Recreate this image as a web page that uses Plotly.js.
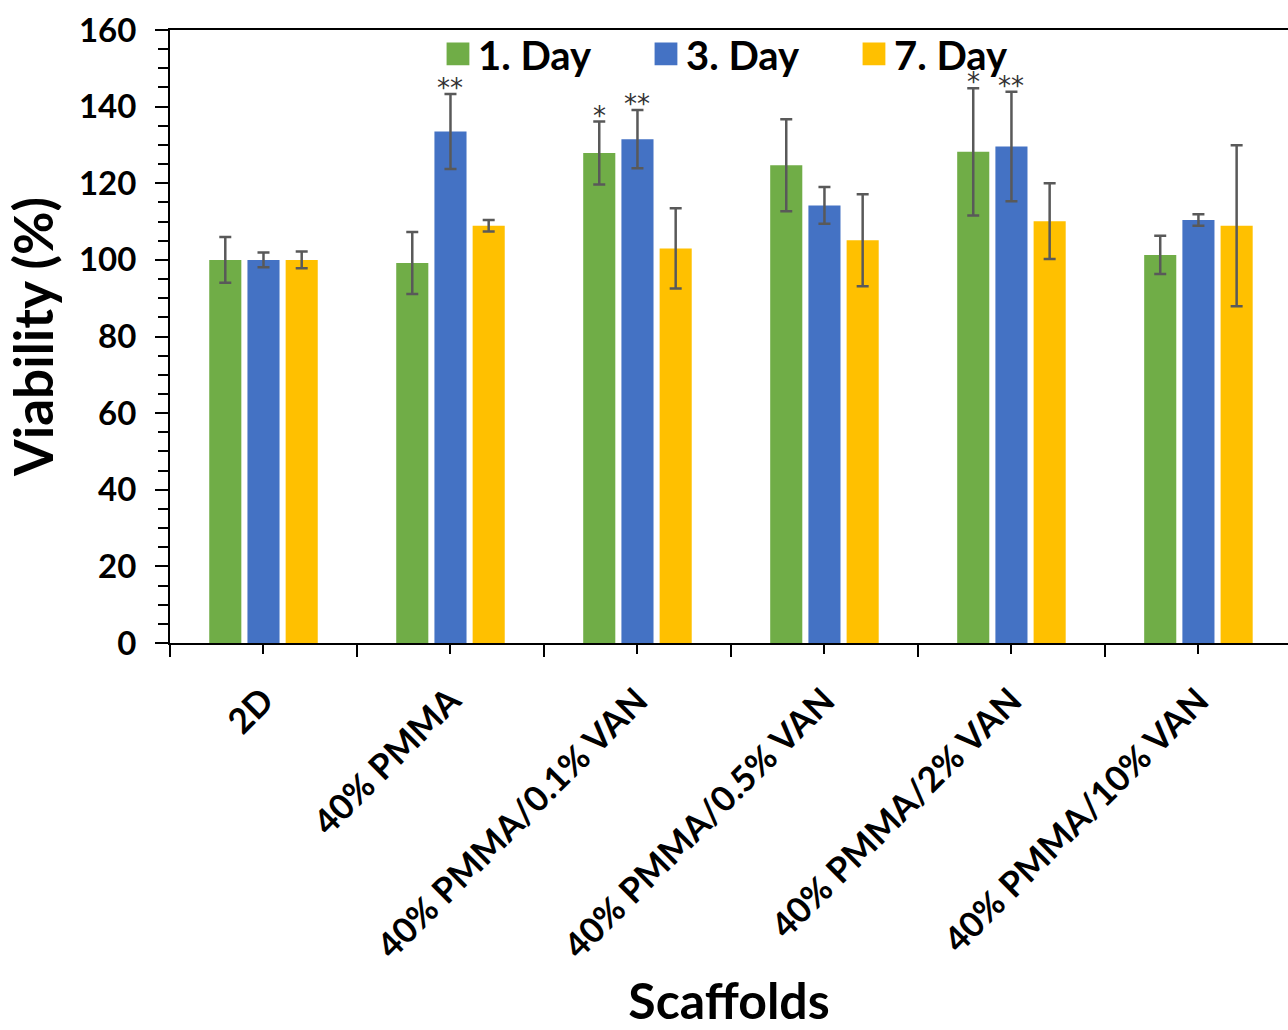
<!DOCTYPE html>
<html>
<head>
<meta charset="utf-8">
<script src="https://cdn.plot.ly/plotly-3.0.1.min.js"></script>
<style>html,body{margin:0;padding:0;background:#fff;}#chart{width:1288px;height:1030px;}</style>
</head>
<body>
<div id="chart"></div>
<script>
const categories = ['2D', '40% PMMA', '40% PMMA/0.1% VAN', '40% PMMA/0.5% VAN', '40% PMMA/2% VAN', '40% PMMA/10% VAN'];
const seriesNames = ['1. Day', '3. Day', '7. Day'];
const day1 = [100, 99.2, 127.9, 124.7, 128.2, 101.3];
const day1Err = [6, 8.1, 8.2, 12, 16.6, 5];
const day3 = [100, 133.5, 131.5, 114.2, 129.6, 110.4];
const day3Err = [1.9, 9.8, 7.6, 4.8, 14.3, 1.5];
const day7 = [100, 108.9, 103, 105.1, 110.1, 108.9];
const day7Err = [2.2, 1.5, 10.5, 12, 9.9, 21];
const sig1 = ['', '', '*', '', '*', ''];
const sig3 = ['', '**', '**', '', '**', ''];
const sig7 = ['', '', '', '', '', ''];
const yTicks = [0, 20, 40, 60, 80, 100, 120, 140, 160];

const colors = ['#70AD47', '#4472C4', '#FFC000'];
const values = [day1, day3, day7];
const errors = [day1Err, day3Err, day7Err];
const sigs = [sig1, sig3, sig7];
const xPos = categories.map((c, i) => i);
const bargap = 0.387;

const traces = values.map((v, k) => ({
  type: 'bar',
  name: seriesNames[k],
  x: xPos,
  y: v,
  marker: {color: colors[k], line: {width: 0}},
  error_y: {type: 'data', array: errors[k], visible: true, color: '#595959', thickness: 2.5, width: 6}
}));

const slot = (1 - bargap) / 3;
const annotations = [];
sigs.forEach((s, k) => {
  s.forEach((txt, i) => {
    if (!txt) return;
    annotations.push({
      x: xPos[i] + (k - 1) * slot,
      y: values[k][i] + errors[k][i],
      xref: 'x', yref: 'y',
      text: txt, showarrow: false,
      xanchor: 'center', yanchor: 'bottom', yshift: -11,
      font: {family: 'DejaVu Sans', size: 26, color: '#333333'}
    });
  });
});

const layout = {
  width: 1288, height: 1030,
  margin: {l: 170, r: 0, t: 30, b: 387},
  paper_bgcolor: '#fff', plot_bgcolor: '#fff',
  barmode: 'group', bargap: bargap, bargroupgap: 0.16,
  showlegend: true,
  legend: {
    orientation: 'h', x: 0.2397, xanchor: 'left', y: 1.014, yanchor: 'top',
    font: {family: 'Lato', size: 40, weight: 'bold', color: '#000'},
    entrywidth: 163, entrywidthmode: 'pixels',
    bgcolor: 'rgba(0,0,0,0)', borderwidth: 0, traceorder: 'normal'
  },
  xaxis: {
    range: [-0.5, 5.479],
    tickmode: 'array', tickvals: xPos, ticktext: categories,
    tickangle: -45,
    ticks: 'outside', ticklen: 9, tickwidth: 2, tickcolor: '#000',
    minor: {tickmode: 'array', tickvals: xPos.map(i => i - 0.5).concat([xPos.length - 0.5]), ticks: 'outside', ticklen: 12, tickwidth: 2, tickcolor: '#000'},
    showline: true, linecolor: '#000', linewidth: 2, mirror: true,
    showgrid: false, zeroline: false,
    tickfont: {family: 'Lato', size: 35, weight: 'bold', color: '#000'},
    ticklabelstandoff: 12,
    title: {text: 'Scaffolds', font: {family: 'Lato', size: 50, weight: 'bold', color: '#000'}, standoff: 28},
    automargin: false, fixedrange: true
  },
  yaxis: {
    range: [0, 160],
    tickmode: 'array', tickvals: yTicks,
    ticks: 'outside', ticklen: 13, tickwidth: 2, tickcolor: '#000',
    minor: {dtick: 5, ticks: 'outside', ticklen: 10, tickwidth: 2, tickcolor: '#000'},
    showline: true, linecolor: '#000', linewidth: 2,
    showgrid: false, zeroline: false,
    tickfont: {family: 'Lato', size: 33, weight: 'bold', color: '#000'},
    ticklabelstandoff: 12,
    title: {text: 'Viability (%)', font: {family: 'Lato', size: 53, weight: 'bold', color: '#000'}, standoff: 8},
    automargin: false, fixedrange: true
  },
  annotations: annotations
};

Plotly.newPlot('chart', traces, layout, {displayModeBar: false, staticPlot: true}).then(() => {
  document.querySelectorAll('.legend .legendpoints path').forEach(p => {
    const t = p.getAttribute('transform') || '';
    p.setAttribute('transform', t + ' scale(1.9)');
  });
});
</script>
</body>
</html>
